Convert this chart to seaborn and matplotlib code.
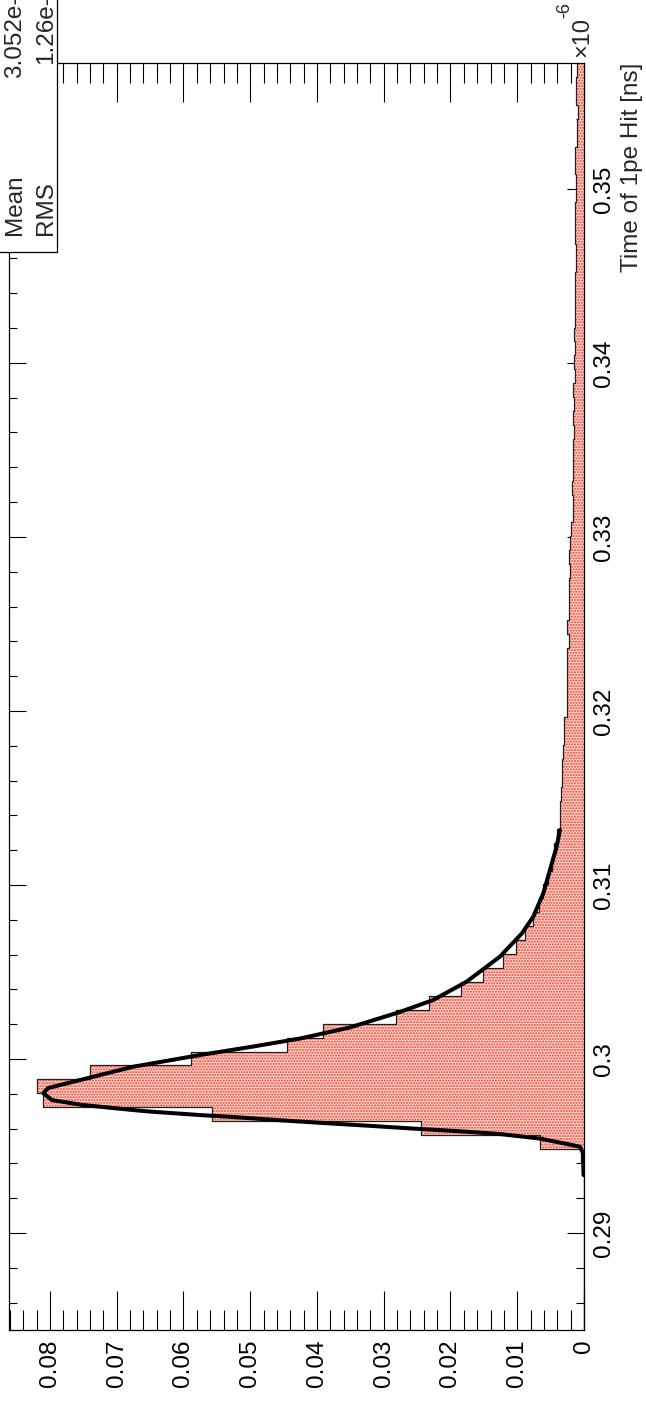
import numpy as np
import matplotlib
matplotlib.use("Agg")
import matplotlib.pyplot as plt
from matplotlib.ticker import MultipleLocator, FuncFormatter
from matplotlib.patches import Rectangle
import pandas as pd
import seaborn as sns

# ---- histogram of 1pe hit times (time in units of 1e-6) ----
t_first_edge = 0.28443
bin_width = 0.0008
hit_fraction = [
    0, 0, 0, 0, 0, 0, 0, 0, 0, 0,
    0, 0, 0.0005, 0.0066, 0.0244, 0.0558, 0.0810, 0.0820, 0.0740, 0.0589,
    0.0445, 0.0391, 0.0281, 0.0232, 0.0184, 0.0151, 0.0122, 0.0102, 0.0088, 0.0077,
    0.0068, 0.0062, 0.0054, 0.0048, 0.0045, 0.0041, 0.0036, 0.0036, 0.0035, 0.0033,
    0.0033, 0.0032, 0.0030, 0.0030, 0.0025, 0.0025, 0.0025, 0.0025, 0.0025, 0.0023,
    0.0026, 0.0022, 0.0022, 0.0022, 0.0021, 0.0023, 0.0021, 0.0020, 0.0017, 0.0017,
    0.0018, 0.0017, 0.0016, 0.0017, 0.0015, 0.0016, 0.0015, 0.0016, 0.0014, 0.0015,
    0.0014, 0.0015, 0.0013, 0.0014, 0.0013, 0.0014, 0.0012, 0.0012, 0.0013, 0.00135,
    0.00135, 0.0012, 0.0012, 0.00135, 0.00135, 0.0011, 0.0011, 0.0009, 0.0012, 0.0012,
    0.0011,
]

# ---- fitted pulse shape, sampled along the time axis ----
fit_time = [
    0.29333, 0.29460, 0.29496, 0.29512, 0.29543, 0.29569, 0.29586, 0.29598,
    0.29615, 0.29629, 0.29648, 0.29667, 0.29678, 0.29698, 0.29707, 0.29736,
    0.29764, 0.29803, 0.29833, 0.29860, 0.29956, 0.30023, 0.30069, 0.30118,
    0.30181, 0.30270, 0.30339, 0.30444, 0.30588, 0.30722, 0.30818, 0.30952,
    0.31086, 0.31220, 0.31316,
]
fit_value = [
    0.00007, 0.00015, 0.0006, 0.0026, 0.0066, 0.0126, 0.0191, 0.0246,
    0.0316, 0.0376, 0.0455, 0.0526, 0.0575, 0.0650, 0.0676, 0.0751,
    0.0797, 0.0810, 0.0803, 0.0775, 0.0675, 0.0575, 0.0500, 0.0425,
    0.0351, 0.0276, 0.0226, 0.0176, 0.0126, 0.0093, 0.0076, 0.0061,
    0.0051, 0.0041, 0.0036,
]

stats_labels = ["Mean", "RMS"]
stats_values = ["3.052e-07", "1.26e-08"]
axis_title = "Time of 1pe Hit [ns]"

value_range = (0.08614, 0.0)
time_range = (0.28443, 0.35723)

edges = t_first_edge + bin_width * np.arange(len(hit_fraction) + 1)
hist_df = pd.DataFrame({"time": edges[:-1] + bin_width / 2,
                        "fraction": hit_fraction})
fit_df = pd.DataFrame({"time": fit_time, "value": fit_value})

sns.set_style("white")
plt.rcParams["font.family"] = ["Liberation Sans", "DejaVu Sans"]
plt.rcParams["hatch.linewidth"] = 1.0

W, H = 646, 1402
fig = plt.figure(figsize=(W / 100, H / 100), dpi=100)
ax = fig.add_axes([9 / W, 72 / H, 575 / W, 1267 / H])


def fx(px):
    """figure x-fraction from a pixel column"""
    return px / W


def fy(py):
    """figure y-fraction from a pixel row counted from the top"""
    return 1 - py / H


# filled histogram body (dotted red pattern)
sns.histplot(data=hist_df, y="time", weights="fraction", bins=list(edges),
             element="step", fill=True, color="#f15a45", alpha=1,
             linewidth=0, ax=ax)
body = ax.collections[-1]
body.set_facecolor("#fcd5cd")
body.set_edgecolor("#f03c28")
body.set_hatch("......")
body.set_linewidth(0)

# histogram outline
sns.histplot(data=hist_df, y="time", weights="fraction", bins=list(edges),
             element="step", fill=False, color="#202020", linewidth=0.9, ax=ax)

# fitted curve
sns.lineplot(data=fit_df, x="value", y="time", orient="y", estimator=None,
             color="black", linewidth=2.9, ax=ax, zorder=5)

ax.set_xlim(*value_range)
ax.set_ylim(*time_range)
ax.set_xlabel("")
ax.set_ylabel("")

fmt = FuncFormatter(lambda v, pos: f"{round(v, 6):g}")
ax.xaxis.set_major_locator(MultipleLocator(0.01))
ax.xaxis.set_minor_locator(MultipleLocator(0.002))
ax.yaxis.set_major_locator(MultipleLocator(0.01))
ax.yaxis.set_minor_locator(MultipleLocator(0.002))
ax.xaxis.set_major_formatter(fmt)
ax.yaxis.set_major_formatter(fmt)

ax.tick_params(axis="both", which="both", direction="in", top=True, bottom=True,
               left=True, right=True, labelleft=False, labelright=True,
               width=0.8, colors="black", labelsize=17.5)
ax.tick_params(axis="x", which="major", length=28, pad=7)
ax.tick_params(axis="x", which="minor", length=14.4)
ax.tick_params(axis="y", which="major", length=12, pad=6.5)
ax.tick_params(axis="y", which="minor", length=6)
plt.setp(ax.get_xticklabels(), rotation=90, ha="center", va="top")
plt.setp(ax.get_yticklabels(), rotation=90, ha="left", va="center")

for sp in ax.spines.values():
    sp.set_color("black")
    sp.set_linewidth(0.9)

# axis title and exponent
fig.text(fx(638), fy(63), axis_title, rotation=90, rotation_mode="anchor",
         ha="right", va="baseline", fontsize=17.5)
fig.text(fx(588), fy(57), "\u00d710", rotation=90, rotation_mode="anchor",
         ha="left", va="baseline", fontsize=17)
fig.text(fx(569), fy(18), "-6", rotation=90, rotation_mode="anchor",
         ha="left", va="baseline", fontsize=13)

# statistics box
box = Rectangle((fx(-10), fy(252)), 67 / W, 0.4, transform=fig.transFigure,
                facecolor="white", edgecolor="black", linewidth=0.9, zorder=10,
                clip_on=False)
fig.add_artist(box)
for i, (lab, val) in enumerate(zip(stats_labels, stats_values)):
    xb = 21 + 31 * i
    fig.text(fx(xb), fy(235), lab, rotation=90, rotation_mode="anchor",
             ha="left", va="baseline", fontsize=17.5, zorder=11)
    fig.text(fx(xb), fy(-32), val, rotation=90, rotation_mode="anchor",
             ha="right", va="baseline", fontsize=17.5, zorder=11)

fig.savefig("out.png", dpi=100)
